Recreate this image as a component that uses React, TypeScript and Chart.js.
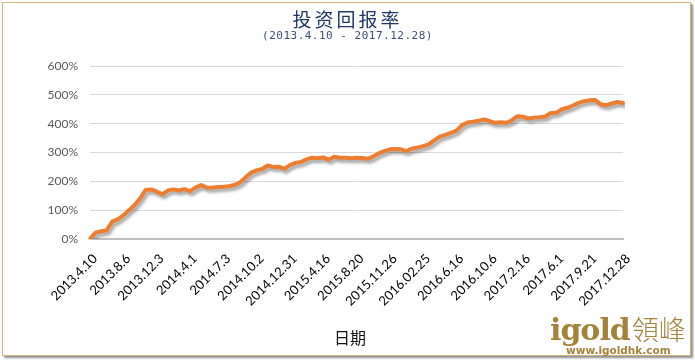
import React, { useEffect, useRef } from "react";
import { Chart, registerables } from "chart.js";

Chart.register(...registerables);

const tickLabels = [
  "2013.4.10", "2013.8.6", "2013.12.3", "2014.4.1", "2014.7.3", "2014.10.2",
  "2014.12.31", "2015.4.16", "2015.8.20", "2015.11.26", "2016.02.25", "2016.6.16",
  "2016.10.6", "2017.2.16", "2017.6.1", "2017.9.21", "2017.12.28",
];

const returnPct = [
  0, 22, 27, 30, 60, 68, 82, 100, 117, 140, 170, 172,
  165, 155, 168, 172, 168, 173, 166, 178, 187, 179, 178, 180,
  181, 183, 187, 196, 213, 230, 238, 243, 255, 250, 251, 243,
  256, 264, 267, 276, 282, 280, 283, 275, 285, 282, 282, 280,
  282, 281, 278, 286, 297, 305, 311, 312, 311, 305, 314, 317,
  322, 328, 342, 355, 361, 368, 376, 395, 404, 407, 410, 415,
  409, 403, 405, 403, 412, 426, 424, 418, 421, 422, 425, 437,
  438, 450, 455, 463, 472, 478, 481, 482, 467, 464, 470, 475,
  472,
];

const STEP = 6;
const categories = returnPct.map((_, i) => String(i));

const shadowPlugin = {
  id: "lineShadow",
  beforeDatasetDraw(chart: any) {
    const ctx = chart.ctx;
    ctx.save();
    ctx.shadowColor = "rgba(0,0,0,0.35)";
    ctx.shadowBlur = 3;
    ctx.shadowOffsetX = 2;
    ctx.shadowOffsetY = 3;
  },
  afterDatasetDraw(chart: any) {
    chart.ctx.restore();
  },
};

export default function App() {
  const ref = useRef<HTMLCanvasElement | null>(null);

  useEffect(() => {
    if (!ref.current) return;
    const chart = new Chart(ref.current, {
      type: "line",
      data: {
        labels: categories,
        datasets: [
          {
            data: returnPct,
            borderColor: "#ED7D31",
            borderWidth: 4,
            pointRadius: 0,
            tension: 0,
            fill: false,
            borderJoinStyle: "round",
            borderCapStyle: "round",
          },
        ],
      },
      plugins: [shadowPlugin],
      options: {
        animation: false,
        responsive: false,
        maintainAspectRatio: false,
        layout: { padding: { top: 66, right: 72, bottom: 0, left: 0 } },
        plugins: {
          legend: { display: false },
          tooltip: { enabled: false },
          title: { display: false },
        },
        scales: {
          x: {
            type: "category",
            offset: false,
            grid: { display: false, drawTicks: false },
            border: { display: true, color: "#BFBFBF", width: 2 },
            afterFit: (s: any) => {
              s.height = 123;
            },
            ticks: {
              autoSkip: false,
              minRotation: 45,
              maxRotation: 45,
              padding: 12,
              labelOffset: 5,
              color: "#000000",
              font: { family: "Lato", size: 13 },
              callback: (_v: any, i: number) =>
                i % STEP === 0 ? tickLabels[i / STEP] : "",
            },
          },
          y: {
            min: 0,
            max: 600,
            afterFit: (s: any) => {
              s.width = 90;
            },
            grid: { color: "#D9D9D9", lineWidth: 1, drawTicks: false },
            border: { display: false },
            ticks: {
              stepSize: 100,
              padding: 12,
              color: "#595959",
              font: { family: "Lato", size: 12 },
              callback: (v: any) => v + "%",
            },
          },
        },
      },
    });
    return () => chart.destroy();
  }, []);

  return (
    <div
      style={{
        position: "fixed",
        left: 0,
        top: 0,
        width: 695,
        height: 362,
        background: "#ffffff",
        overflow: "hidden",
      }}
    >
      <div
        style={{
          position: "absolute",
          left: 2,
          top: 2,
          width: 689,
          height: 354,
          border: "1px solid #D4B577",
          boxShadow: "2px 2px 2px rgba(0,0,0,0.45)",
          boxSizing: "border-box",
        }}
      />
      <canvas
        ref={ref}
        width={695}
        height={362}
        style={{ position: "absolute", left: 0, top: 0, width: 695, height: 362 }}
      />
      <div
        style={{
          position: "absolute",
          left: 0,
          width: 695,
          top: 6,
          textAlign: "center",
          fontFamily: "'Noto Sans CJK SC'",
          fontSize: 19,
          color: "#1F3864",
          lineHeight: "26px",
          letterSpacing: 3,
        }}
      >
        投资回报率
      </div>
      <div
        style={{
          position: "absolute",
          left: 0,
          width: 695,
          top: 29,
          textAlign: "center",
          fontFamily: "'DejaVu Sans Mono'",
          fontSize: 11,
          color: "#3B4E78",
          lineHeight: "14px",
          letterSpacing: 0.5,
        }}
      >
        (2013.4.10 - 2017.12.28)
      </div>
      <div
        style={{
          position: "absolute",
          left: 300,
          width: 100,
          top: 326,
          textAlign: "center",
          fontFamily: "'Noto Sans CJK SC'",
          fontSize: 16,
          color: "#111111",
          lineHeight: "22px",
        }}
      >
        日期
      </div>
      <div
        style={{
          position: "absolute",
          left: 550,
          top: 312,
          color: "#A4823A",
          whiteSpace: "nowrap",
          lineHeight: "34px",
        }}
      >
        <span style={{ fontFamily: "'DejaVu Serif'", fontWeight: 700, fontSize: 30, letterSpacing: -1 }}>
          igold
        </span>
        <span style={{ fontFamily: "'Noto Sans CJK TC'", fontWeight: 300, fontSize: 27, marginLeft: 2 }}>
          領峰
        </span>
      </div>
      <div
        style={{
          position: "absolute",
          left: 566,
          top: 344,
          color: "#A4823A",
          fontFamily: "'DejaVu Sans'",
          fontWeight: 700,
          fontSize: 10.5,
          lineHeight: "12px",
          whiteSpace: "nowrap",
        }}
      >
        www.igoldhk.com
      </div>
    </div>
  );
}
